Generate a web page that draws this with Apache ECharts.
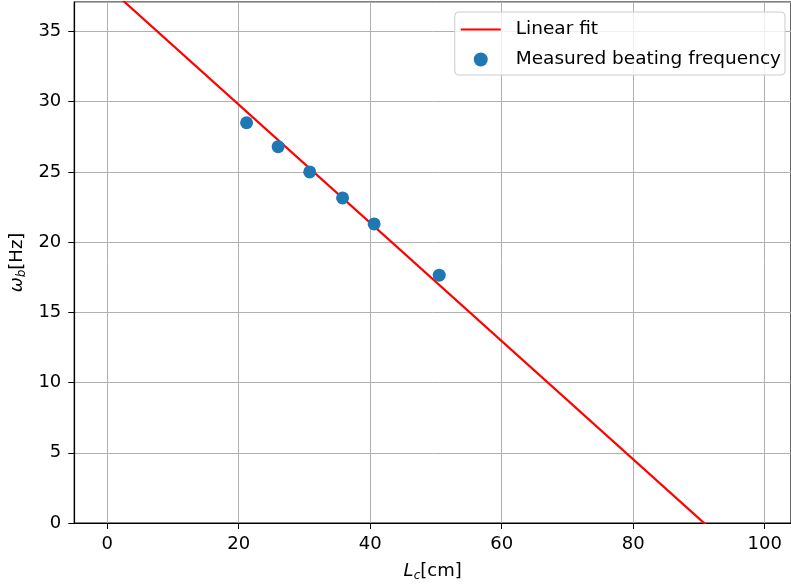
<!DOCTYPE html>
<html>
<head>
<meta charset="utf-8">
<script src="https://cdn.jsdelivr.net/npm/echarts@6/dist/echarts.min.js"></script>
<style>
  html, body { margin: 0; padding: 0; background: #fff; }
  #chart { width: 791px; height: 588px; }
</style>
</head>
<body>
<div id="chart"></div>
<script>
// Measured coupling length (cm) and beating frequency (Hz)
const lengthCm = [21.2, 26.0, 30.8, 35.8, 40.6, 50.5];
const beatHz = [28.5, 26.8, 25.0, 23.15, 21.3, 17.65];

// End points of the linear fit line
const fitX = [-5, 104];
const fitY = [40.32, -5.57];

const xTicks = [0, 20, 40, 60, 80, 100];

const FONT = 'DejaVu Sans';
const chart = echarts.init(document.getElementById('chart'), null, { renderer: 'canvas' });

const richName = {
  it: { fontFamily: FONT, fontStyle: 'italic', fontSize: 18, color: '#000' },
  sub: { fontFamily: FONT, fontStyle: 'italic', fontSize: 12, color: '#000', padding: [9, 0, 0, 0] }
};

chart.setOption({
  animation: false,
  backgroundColor: '#fff',
  textStyle: { fontFamily: FONT },
  grid: {
    left: 73, right: -2, top: 2, bottom: 65, containLabel: false,
    show: true, borderColor: '#000', borderWidth: 1.2, backgroundColor: 'transparent'
  },
  legend: {
    orient: 'vertical',
    right: 6,
    top: 12,
    padding: [8, 4, 6, 6],
    itemGap: 11,
    itemWidth: 40,
    itemHeight: 14,
    backgroundColor: 'rgba(255,255,255,0.8)',
    borderColor: '#cccccc',
    borderWidth: 1,
    borderRadius: 4,
    textStyle: { fontFamily: FONT, fontSize: 18.5, color: '#000', padding: [0, 0, 0, 10] },
    data: [
      { name: 'Linear fit', icon: 'path://M0,0L40,0L40,2L0,2Z', itemStyle: { color: '#ff0000' } },
      { name: 'Measured beating frequency', icon: 'circle' }
    ]
  },
  xAxis: {
    type: 'value',
    min: -5,
    max: 104,
    position: 'bottom',
    axisLine: { onZero: false, lineStyle: { color: '#000', width: 1.2 } },
    axisTick: { show: true, length: 6, lineStyle: { color: '#000' }, customValues: xTicks },
    axisLabel: { customValues: xTicks, fontFamily: FONT, fontSize: 18, color: '#000', margin: 12 },
    splitLine: { show: true, lineStyle: { color: '#b0b0b0', width: 1 } },
    name: '{it|L}{sub|c}[cm]',
    nameLocation: 'middle',
    nameGap: 38,
    nameTextStyle: { fontFamily: FONT, fontSize: 18, color: '#000', rich: richName }
  },
  yAxis: {
    type: 'value',
    min: 0,
    max: 37.1,
    interval: 5,
    axisLine: { show: true, onZero: false, lineStyle: { color: '#000', width: 1.2 } },
    axisTick: { show: true, length: 6, lineStyle: { color: '#000' } },
    axisLabel: { fontFamily: FONT, fontSize: 18, color: '#000', margin: 13, showMaxLabel: false },
    splitLine: { show: true, lineStyle: { color: '#b0b0b0', width: 1 } },
    name: '{it|ω}{sub|b}[Hz]',
    nameLocation: 'middle',
    nameGap: 41,
    nameRotate: 90,
    nameTextStyle: { fontFamily: FONT, fontSize: 18, color: '#000', rich: richName }
  },
  series: [
    {
      name: 'Linear fit',
      type: 'line',
      data: fitX.map((x, i) => [x, fitY[i]]),
      symbol: 'none',
      clip: true,
      lineStyle: { color: '#ff0000', width: 2.2 },
      itemStyle: { color: '#ff0000' },
      z: 2
    },
    {
      name: 'Measured beating frequency',
      type: 'scatter',
      data: lengthCm.map((x, i) => [x, beatHz[i]]),
      symbolSize: 13,
      itemStyle: { color: '#1f77b4', opacity: 1 },
      z: 3
    }
  ]
});
</script>
</body>
</html>
